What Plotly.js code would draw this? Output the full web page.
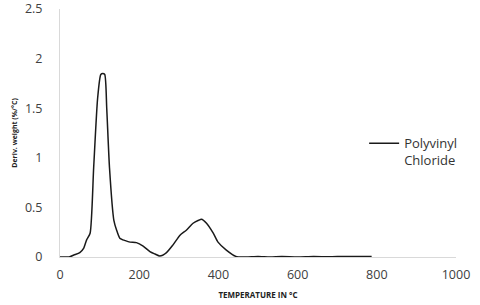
<!DOCTYPE html>
<html><head><meta charset="utf-8">
<script src="https://cdn.plot.ly/plotly-3.0.1.min.js"></script>
<style>html,body{margin:0;padding:0;background:#fff}#chart{width:480px;height:305px}</style>
</head><body><div id="chart"></div>
<script>
const temperature = [0, 10, 23, 35, 50, 60, 67, 76, 85, 95, 103, 108, 113, 118, 125, 136, 143, 151, 165, 177, 193, 210, 227, 240, 252, 269, 285, 303, 319, 336, 350, 357, 370, 387, 399, 420, 446, 470, 500, 530, 560, 600, 640, 680, 720, 760, 787];
const derivWeight = [0, 0, 0, 0.02, 0.045, 0.09, 0.17, 0.24, 0.9, 1.6, 1.84, 1.85, 1.84, 1.5, 0.9, 0.37, 0.27, 0.19, 0.165, 0.15, 0.145, 0.11, 0.055, 0.03, 0.01, 0.045, 0.12, 0.22, 0.27, 0.34, 0.37, 0.38, 0.34, 0.24, 0.15, 0.07, 0.003, 0.0, 0.005, 0.0, 0.004, 0.0, 0.005, 0.002, 0.006, 0.004, 0.006];
const seriesName = 'Polyvinyl<br>Chloride';

const tickFont = {family: 'Open Sans, sans-serif', size: 12.5, color: '#404040'};
Plotly.newPlot('chart', [{
  x: temperature, y: derivWeight, type: 'scatter', mode: 'lines',
  name: seriesName, line: {color: '#1a1a1a', width: 1.5, shape: 'spline', smoothing: 0.6}
}], {
  width: 480, height: 305,
  margin: {l: 60, r: 24, t: 9, b: 48},
  paper_bgcolor: '#fff', plot_bgcolor: '#fff',
  showlegend: true,
  legend: {x: 0.768, y: 0.424, xanchor: 'left', yanchor: 'middle', valign: 'top', tracegroupgap: 0,
           font: {family: 'Open Sans, sans-serif', size: 13, color: '#333'}, bgcolor: 'rgba(0,0,0,0)'},
  xaxis: {range: [0, 1000], tickvals: [0, 200, 400, 600, 800, 1000], showgrid: false, zeroline: false,
          showline: true, linecolor: '#d9d9d9', linewidth: 1, ticks: '', ticklabelstandoff: 6,
          tickfont: tickFont, ticklabeloverflow: 'allow',
          title: {text: '<b>TEMPERATURE IN °C</b>', font: {family: 'Open Sans, sans-serif', size: 8, color: '#222'}, standoff: 10}},
  yaxis: {range: [0, 2.5], tickvals: [0, 0.5, 1, 1.5, 2, 2.5], showgrid: false, zeroline: false,
          showline: true, linecolor: '#d9d9d9', linewidth: 1, ticks: '', ticklabelstandoff: 14,
          tickfont: tickFont, ticklabeloverflow: 'allow',
          title: {text: '<b>Deriv. weight (%/°C)</b>', font: {family: 'Open Sans, sans-serif', size: 7, color: '#222'}, standoff: 6}}
}, {staticPlot: true, displayModeBar: false});
</script></body></html>
